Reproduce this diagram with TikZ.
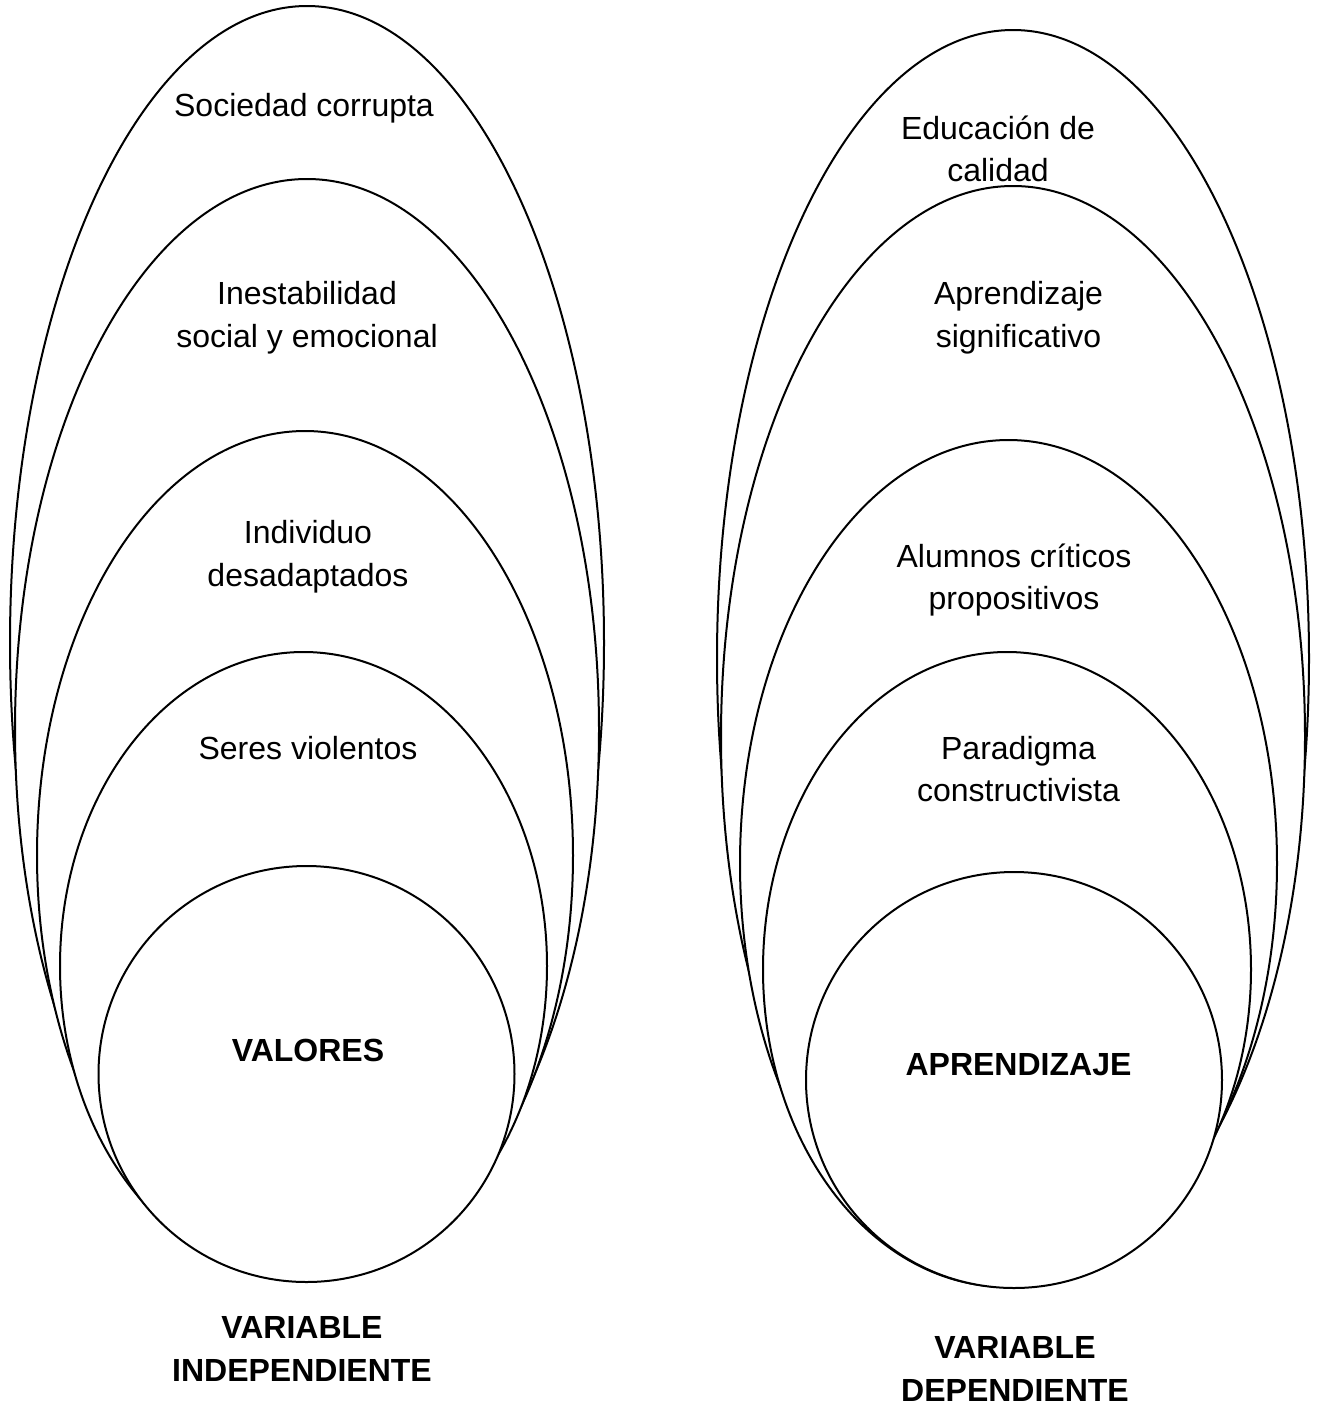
\documentclass[tikz,border=0pt]{standalone}
\usepackage{fontspec}
\setmainfont{Liberation Sans}
\usepackage{tikz}
\usetikzlibrary{positioning}

\begin{document}
\begin{tikzpicture}[x=0.375pt,y=-0.375pt,line width=0.75pt]
	\tikzstyle{every node}+=[inner sep=0pt]
	\tikzstyle{ring}=[draw=black,fill=white]
	\tikzstyle{lbl}=[align=center,font=\fontsize{12}{16}\selectfont]
	\tikzstyle{blbl}=[lbl,font=\fontsize{12}{16}\selectfont\bfseries]
	\useasboundingbox (0,0) rectangle (1317,1408);
	% variable independiente
	\draw [ring] (307,643) ellipse (297 and 637);
	\draw [ring] (307,729.5) ellipse (292 and 550.5);
	\draw [ring] (305,855.5) ellipse (268 and 424.5);
	\draw [ring] (303.5,966) ellipse (243.5 and 314);
	\draw [ring] (306.5,1074) circle (208);
	\node [lbl] (soc) at (304,108) {Sociedad corrupta};
	\node [lbl] (ines) at (307,318) {Inestabilidad\\social y emocional};
	\node [lbl] (indiv) at (308,557) {Individuo\\desadaptados};
	\node [lbl] (seres) at (308,748) {Seres violentos};
	\node [blbl] (val) at (308,1050) {VALORES};
	\node [blbl] (vi) at (302,1349) {VARIABLE\\INDEPENDIENTE};
	% variable dependiente
	\draw [ring] (1013,658.5) ellipse (296 and 628.5);
	\draw [ring] (1013,736.5) ellipse (292 and 550.5);
	\draw [ring] (1008.5,863.5) ellipse (268.5 and 423.5);
	\draw [ring] (1007,969.5) ellipse (244 and 317.5);
	\draw [ring] (1014,1080) circle (208);
	\node [lbl] (edu) at (998,149) {Educación de\\calidad};
	\node [lbl] (aprsig) at (1018.5,318) {Aprendizaje\\significativo};
	\node [lbl] (alum) at (1014,580) {Alumnos críticos\\propositivos};
	\node [lbl] (parad) at (1018.5,769) {Paradigma\\constructivista};
	\node [blbl] (apr) at (1018.5,1065) {APRENDIZAJE};
	\node [blbl] (vd) at (1015,1369) {VARIABLE\\DEPENDIENTE};
\end{tikzpicture}
\end{document}
